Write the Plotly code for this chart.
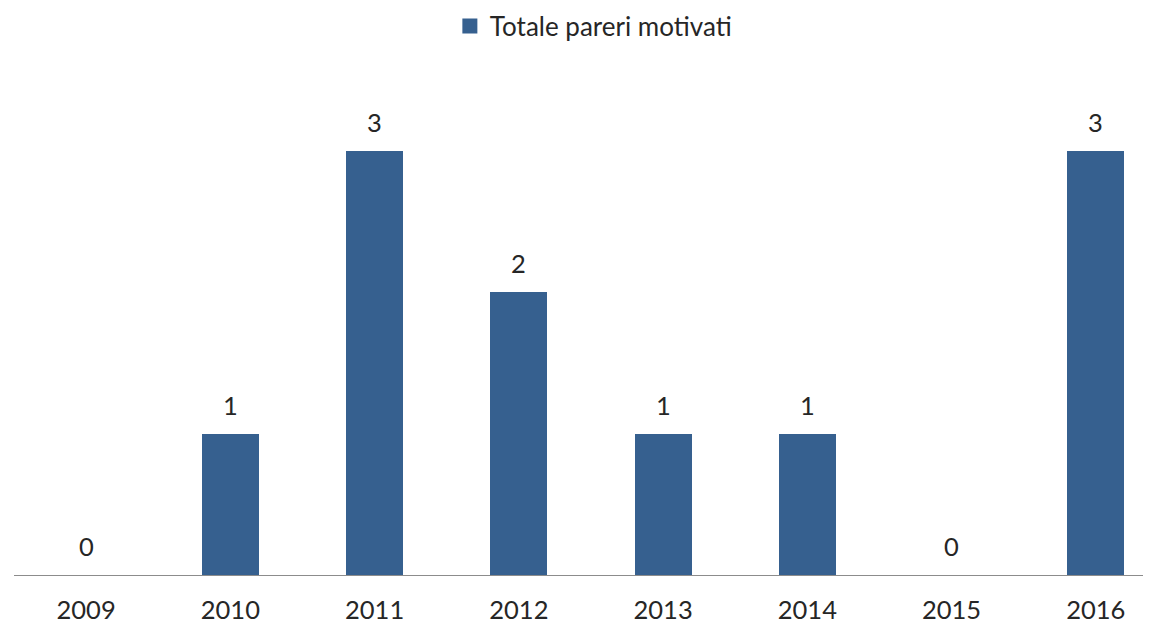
import plotly.graph_objects as go

years = ["2009", "2010", "2011", "2012", "2013", "2014", "2015", "2016"]
values = [0, 1, 3, 2, 1, 1, 0, 3]
series_name = "Totale pareri motivati"

bar_color = "#36608F"
font_family = "Lato, 'Open Sans', sans-serif"
text_color = "#262626"
fsize = 25.5

fig = go.Figure()
fig.add_trace(go.Bar(
    x=list(range(len(years))),
    y=values,
    name=series_name,
    marker=dict(color=bar_color, line=dict(width=0)),
    width=0.396,
    showlegend=False,
    legendgroup="s",
))
# legend entry with a larger square symbol
fig.add_trace(go.Scatter(
    x=[None], y=[None], mode="markers",
    name=series_name,
    marker=dict(color=bar_color, symbol="square", size=15),
    showlegend=True,
    legendgroup="s",
))

for i, v in enumerate(values):
    fig.add_annotation(
        x=i, y=v, xref="x", yref="y",
        text=str(v), showarrow=False,
        yanchor="bottom", yshift=12,
        font=dict(family=font_family, size=fsize, color=text_color),
    )

fig.update_layout(
    width=1151, height=625,
    margin=dict(l=6, r=0, t=72, b=58, autoexpand=False),
    paper_bgcolor="white", plot_bgcolor="white",
    font=dict(family=font_family, size=fsize, color=text_color),
    showlegend=True,
    legend=dict(
        orientation="h", x=0.506, y=1.109,
        xanchor="center", yanchor="middle",
        font=dict(family=font_family, size=26, color=text_color),
        itemwidth=30,
    ),
    xaxis=dict(
        range=[-0.5, 7.438],
        tickmode="array",
        tickvals=list(range(len(years))),
        ticktext=years,
        showgrid=False, zeroline=False,
        showline=True, linecolor="#8C8C8C", linewidth=1,
        ticks="", ticklen=0,
        ticklabelstandoff=12,
        tickfont=dict(family=font_family, size=fsize, color=text_color),
    ),
    yaxis=dict(
        range=[0, 3.5],
        visible=False,
        showgrid=False, zeroline=False,
    ),
    bargap=0,
)

fig.write_html("out.html")
